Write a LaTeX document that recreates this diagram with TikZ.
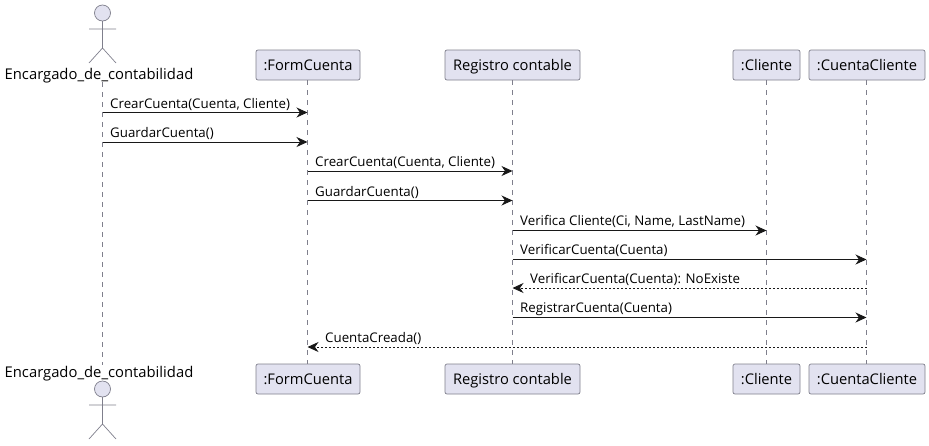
\documentclass[tikz,border=0pt]{standalone}
\usepackage{fontspec}
\setmainfont{Open Sans}
\usetikzlibrary{arrows.meta}
\definecolor{partfill}{HTML}{E2E2F0}
\definecolor{partline}{HTML}{7F7F8C}
\definecolor{msgline}{HTML}{181818}
\tikzset{
  part/.style={draw=partline,fill=partfill,rounded corners=2pt,line width=0.7pt,minimum height=30pt,inner sep=0pt,text height=12pt,text depth=1pt,font=\fontsize{14.7}{16}\selectfont,text=black},
  actname/.style={inner sep=0pt,text height=12pt,text depth=1pt,font=\fontsize{14.8}{16}\selectfont,text=black},
  lifeline/.style={draw=partline,line width=0.7pt,dash pattern=on 5pt off 5pt},
  stick/.style={draw=partline,line width=0.7pt},
  msg/.style={draw=msgline,line width=1pt,-{Stealth[length=11pt,width=10pt,inset=3.5pt]}},
  reply/.style={msg,dash pattern=on 2pt off 2pt},
  msgtext/.style={inner sep=0pt,anchor=base west,font=\fontsize{13.3}{15}\selectfont,text=black},
}
\newcommand{\stickman}[2]{%
  \draw[stick,fill=partfill] (#1,#2) circle (8);
  \draw[stick] (#1,#2+8) -- (#1,#2+35) (#1-13.5,#2+16) -- (#1+13.5,#2+16)
    (#1-13.5,#2+50) -- (#1,#2+35) -- (#1+13.5,#2+50);
}
\begin{document}
\begin{tikzpicture}[x=1pt,y=-1pt]
  \useasboundingbox (0,0) rectangle (929,445);
  % participants, top row
  \node[actname] (acttop) at (99,73.5) {Encargado\_de\_contabilidad};
  \node[part,minimum width=104pt] (formtop) at (308,65) {:FormCuenta};
  \node[part,minimum width=135pt] (regtop) at (512.5,65) {Registro contable};
  \node[part,minimum width=67pt] (clitop) at (766.5,65) {:Cliente};
  \node[part,minimum width=116pt] (cuetop) at (867,65) {:CuentaCliente};
  % bottom row
  \node[actname] (actbot) at (99,372) {Encargado\_de\_contabilidad};
  \node[part,minimum width=104pt] (formbot) at (308,379) {:FormCuenta};
  \node[part,minimum width=135pt] (regbot) at (512.5,379) {Registro contable};
  \node[part,minimum width=67pt] (clibot) at (766.5,379) {:Cliente};
  \node[part,minimum width=116pt] (cuebot) at (867,379) {:CuentaCliente};
  % lifelines
  \coordinate (acttopl) at (102.5,82);
  \coordinate (actbotl) at (102.5,365);
  \coordinate (formtopl) at (307.5,80);
  \coordinate (formbotl) at (307.5,364);
  \coordinate (regtopl) at (512.5,80);
  \coordinate (regbotl) at (512.5,364);
  \coordinate (clitopl) at (766.5,80);
  \coordinate (clibotl) at (766.5,364);
  \coordinate (cuetopl) at (866.5,80);
  \coordinate (cuebotl) at (866.5,364);
  \foreach \nm in {act,form,reg,cli,cue}
    \draw[lifeline] (\nm topl) -- (\nm botl);
  \stickman{102.5}{13}
  \stickman{102.5}{389}
  % end points of the messages
  \foreach \nm/\xx in {act/102.5,form/307.5,reg/512.5,cli/766.5,cue/866.5}
    \foreach \i/\yy in {1/112.5,2/142,3/171,4/200.5,5/230.5,6/259.5,7/288,8/317.5,9/347}
      \coordinate (\nm\i) at (\xx,\yy);
  \draw[msg] (act1) -- (form1);
  \draw[msg] (act2) -- (form2);
  \draw[msg] (form3) -- (reg3);
  \draw[msg] (form4) -- (reg4);
  \draw[msg] (reg5) -- (cli5);
  \draw[msg] (reg6) -- (cue6);
  \draw[reply] (cue7) -- (reg7);
  \draw[msg] (reg8) -- (cue8);
  \draw[reply] (cue9) -- (form9);
  % message labels
  \node[msgtext] (txt1) at (110,108.5) {CrearCuenta(Cuenta, Cliente)};
  \node[msgtext] (txt2) at (110,137.5) {GuardarCuenta()};
  \node[msgtext] (txt3) at (315,166.5) {CrearCuenta(Cuenta, Cliente)};
  \node[msgtext] (txt4) at (315,196) {GuardarCuenta()};
  \node[msgtext] (txt5) at (520,225.5) {Verifica Cliente(Ci, Name, LastName)};
  \node[msgtext] (txt6) at (520,254.5) {VerificarCuenta(Cuenta)};
  \node[msgtext] (txt7) at (530,283.5) {VerificarCuenta(Cuenta): NoExiste};
  \node[msgtext] (txt8) at (520,312.5) {RegistrarCuenta(Cuenta)};
  \node[msgtext] (txt9) at (325,342.5) {CuentaCreada()};
\end{tikzpicture}
\end{document}
